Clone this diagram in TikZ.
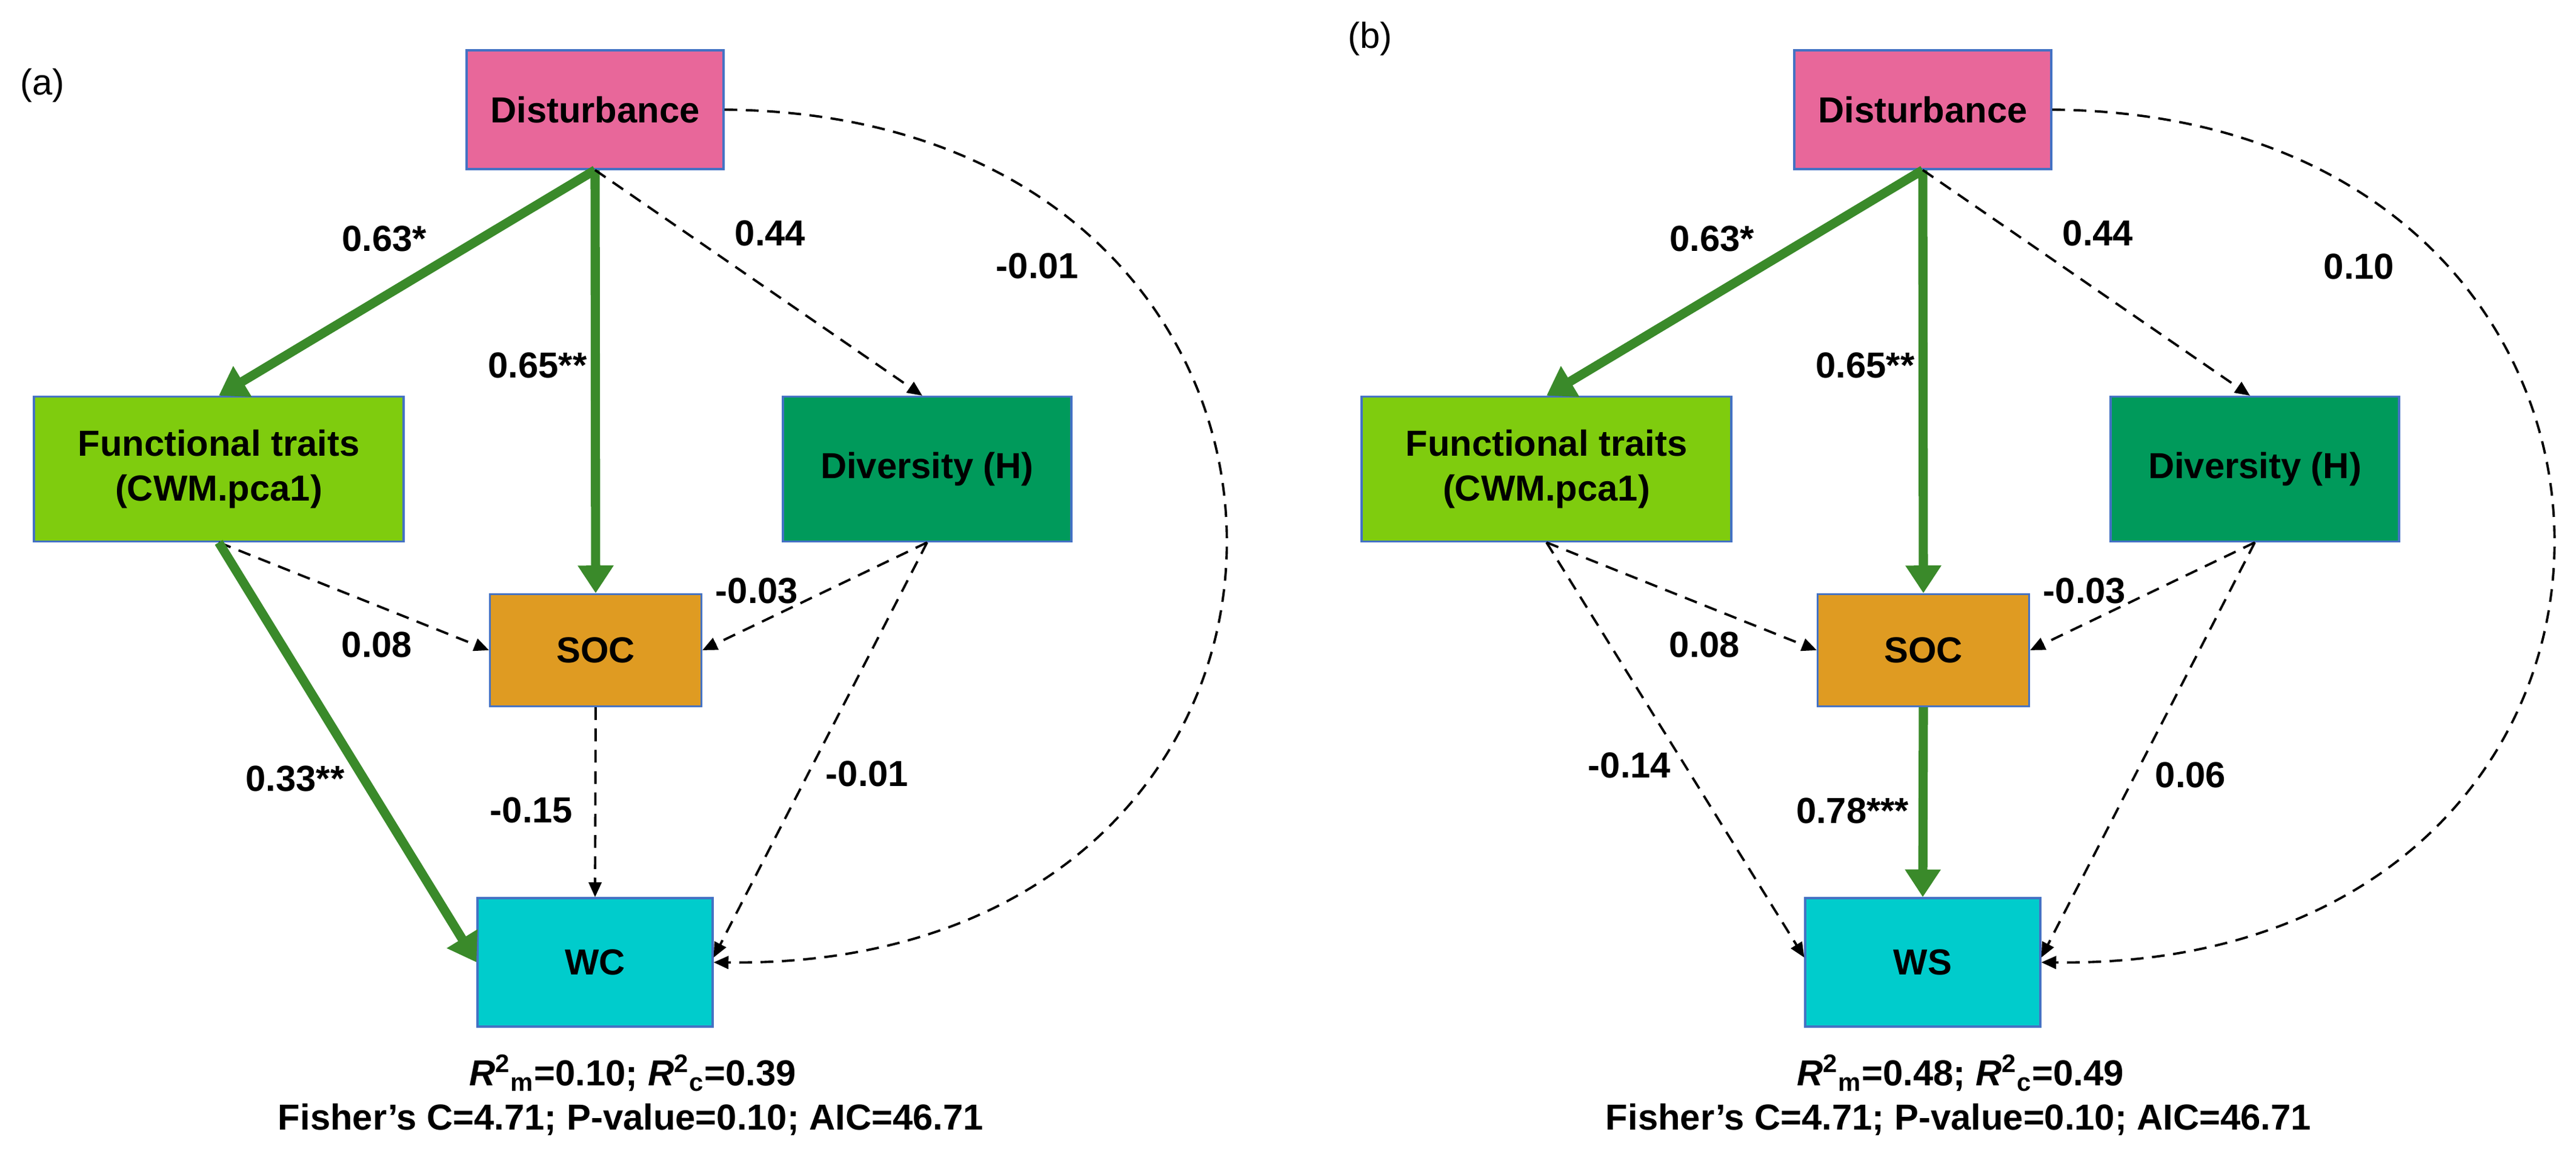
\documentclass[tikz,border=0pt]{standalone}
\usepackage{fontspec}
\setmainfont{Liberation Sans}
\usepackage{tikz}
\usetikzlibrary{arrows.meta}
\definecolor{pinkbox}{HTML}{E8679A}
\definecolor{limebox}{HTML}{7FCC0E}
\definecolor{darkbox}{HTML}{009A5B}
\definecolor{orangebox}{HTML}{DF9B22}
\definecolor{cyanbox}{HTML}{00CCCC}
\definecolor{edgeblue}{HTML}{4472C4}
\definecolor{pathgreen}{HTML}{3A8A2A}
\tikzset{
  box/.style={draw=edgeblue, line width=0.9pt, inner sep=0pt, align=center,
    font=\fontsize{17}{21}\selectfont\bfseries},
  sig/.style={draw=pathgreen, line width=4.3pt, -{Triangle[length=13pt,width=16pt]}},
  ns/.style={black, line width=1.1pt, dash pattern=on 6pt off 4pt, -{Triangle[length=7pt,width=6pt]}},
  lab/.style={font=\fontsize{17}{21}\selectfont\bfseries},
  tag/.style={font=\fontsize{17}{21}\selectfont}
}
\begin{document}
\begin{tikzpicture}
\useasboundingbox (0,0) rectangle (42.51,-19.29);
% panel (a)
\node[tag] at (0.7,-1.41) {(a)};
\node[box, fill=pinkbox, minimum width=4.24cm, minimum height=1.96cm] (adist) at (9.82,-1.81) {Disturbance};
\node[box, fill=limebox, minimum width=6.10cm, minimum height=2.39cm] (afun) at (3.61,-7.74) {Functional traits\\(CWM.pca1)};
\node[box, fill=darkbox, minimum width=4.76cm, minimum height=2.39cm] (adiv) at (15.30,-7.74) {Diversity (H)};
\node[box, fill=orangebox, minimum width=3.49cm, minimum height=1.85cm] (asoc) at (9.83,-10.73) {SOC};
\node[box, fill=cyanbox, minimum width=3.88cm, minimum height=2.12cm] (awc) at (9.82,-15.88) {WC};
\draw[sig] (adist.south) -- (afun.north);
\draw[sig] (adist.south) -- (asoc.north);
\draw[ns] (adist.south) -- ([xshift=-0.08cm]adiv.north);
\draw[ns] (afun.south) -- (asoc.west);
\draw[sig] (afun.south) -- (awc.west);
\draw[ns] (adiv.south) -- (asoc.east);
\draw[ns] (adiv.south) -- ([yshift=0.08cm]awc.east);
\draw[ns] (asoc.south) -- (awc.north);
\draw[ns] (adist.east) .. controls (23.0,-1.9) and (23.0,-16.0) .. (awc.east);
\node[lab] at (6.34,-3.94) {0.63*};
\node[lab] at (8.87,-6.03) {0.65**};
\node[lab] at (12.71,-3.85) {0.44};
\node[lab] at (17.12,-4.39) {-0.01};
\node[lab] at (6.22,-10.64) {0.08};
\node[lab] at (12.49,-9.75) {-0.03};
\node[lab] at (4.87,-12.85) {0.33**};
\node[lab] at (8.77,-13.37) {-0.15};
\node[lab] at (14.31,-12.77) {-0.01};
\node[lab] at (10.44,-17.71) {\textit{R}\textsuperscript{2}\textsubscript{m}=0.10; \textit{R}\textsuperscript{2}\textsubscript{c}=0.39};
\node[lab] at (10.41,-18.47) {Fisher’s C=4.71; P-value=0.10; AIC=46.71};
% panel (b)
\begin{scope}[xshift=21.91cm]
\node[tag] at (0.7,-0.64) {(b)};
\node[box, fill=pinkbox, minimum width=4.24cm, minimum height=1.96cm] (bdist) at (9.82,-1.81) {Disturbance};
\node[box, fill=limebox, minimum width=6.10cm, minimum height=2.39cm] (bfun) at (3.61,-7.74) {Functional traits\\(CWM.pca1)};
\node[box, fill=darkbox, minimum width=4.76cm, minimum height=2.39cm] (bdiv) at (15.30,-7.74) {Diversity (H)};
\node[box, fill=orangebox, minimum width=3.49cm, minimum height=1.85cm] (bsoc) at (9.83,-10.73) {SOC};
\node[box, fill=cyanbox, minimum width=3.88cm, minimum height=2.12cm] (bws) at (9.82,-15.88) {WS};
\draw[sig] (bdist.south) -- (bfun.north);
\draw[sig] (bdist.south) -- (bsoc.north);
\draw[ns] (bdist.south) -- ([xshift=-0.08cm]bdiv.north);
\draw[ns] (bfun.south) -- (bsoc.west);
\draw[ns] (bfun.south) -- ([yshift=0.08cm]bws.west);
\draw[ns] (bdiv.south) -- (bsoc.east);
\draw[ns] (bdiv.south) -- ([yshift=0.08cm]bws.east);
\draw[sig] (bsoc.south) -- (bws.north);
\draw[ns] (bdist.east) .. controls (23.0,-1.9) and (23.0,-16.0) .. (bws.east);
\node[lab] at (6.34,-3.94) {0.63*};
\node[lab] at (8.87,-6.03) {0.65**};
\node[lab] at (12.71,-3.85) {0.44};
\node[lab] at (17.02,-4.40) {0.10};
\node[lab] at (6.22,-10.64) {0.08};
\node[lab] at (12.49,-9.75) {-0.03};
\node[lab] at (4.98,-12.63) {-0.14};
\node[lab] at (8.66,-13.38) {0.78***};
\node[lab] at (14.24,-12.79) {0.06};
\node[lab] at (10.44,-17.71) {\textit{R}\textsuperscript{2}\textsubscript{m}=0.48; \textit{R}\textsuperscript{2}\textsubscript{c}=0.49};
\node[lab] at (10.41,-18.47) {Fisher’s C=4.71; P-value=0.10; AIC=46.71};
\end{scope}
\end{tikzpicture}
\end{document}
